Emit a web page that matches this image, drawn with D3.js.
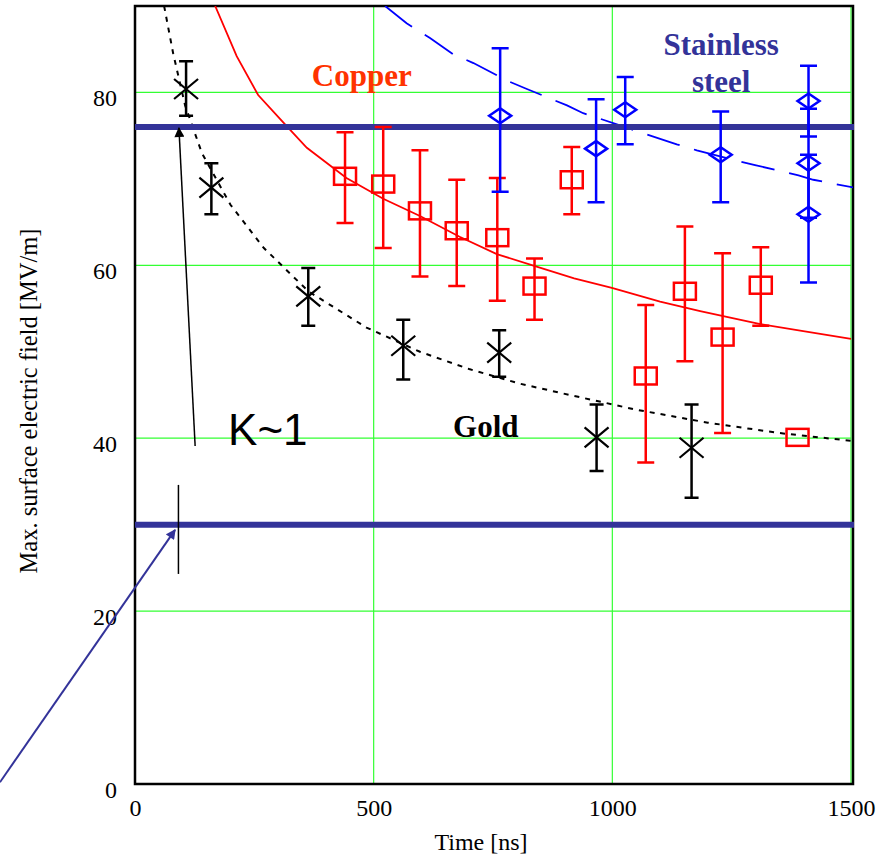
<!DOCTYPE html>
<html>
<head>
<meta charset="utf-8">
<script src="https://cdn.jsdelivr.net/npm/d3@7"></script>
<style>
  body { margin: 0; background: #fff; }
  svg { display: block; }
</style>
</head>
<body>
<script>

const w = 888;
const h = 857;
const serif = "'Liberation Serif', 'Times New Roman', serif";
const sans = "'Liberation Sans', Arial, sans-serif";

// gold (black crosses)
const goldTime = [107, 160, 363, 562, 763, 967, 1166];
const goldField = [80.4, 69.0, 56.4, 50.7, 49.9, 40.1, 38.9];
const goldLow = [77.3, 65.9, 53.0, 46.8, 47.1, 36.2, 33.1];
const goldHigh = [83.6, 71.8, 59.7, 53.7, 52.5, 43.9, 43.9];

// copper (red squares)
const copperTime = [440, 520, 597, 674, 759, 837, 915, 1070, 1152, 1231, 1311, 1388];
const copperField = [70.3, 69.4, 66.3, 64.0, 63.2, 57.6, 69.9, 47.2, 57.0, 51.7, 57.7, 40.1];
const copperLow = [64.9, 62.0, 58.7, 57.6, 55.9, 53.7, 65.9, 37.2, 48.9, 40.6, 53.0, null];
const copperHigh = [75.4, 76.0, 73.3, 69.9, 70.1, 60.8, 73.7, 55.4, 64.5, 61.4, 62.1, null];

// stainless steel (blue diamonds)
const steelTime = [765, 966, 1027, 1227, 1411, 1411, 1411];
const steelField = [77.3, 73.5, 78.0, 72.8, 79.0, 71.8, 65.9];
const steelLow = [68.5, 67.3, 74.0, 67.3, 74.9, 65.5, 58.0];
const steelHigh = [85.1, 79.2, 81.8, 77.8, 83.1, 78.1, 72.8];

// trend curves
const goldCurveTime = [61, 80, 105, 140, 200, 270, 363, 485, 597, 700, 807, 911, 1050, 1200, 1350, 1500];
const goldCurveField = [90, 84.5, 78.5, 73, 67, 62, 57, 52.8, 50, 48, 46.3, 45, 43.3, 41.8, 40.6, 39.7];
const copperCurveTime = [168, 213, 258, 311, 360, 443, 520, 597, 680, 758, 838, 920, 999, 1100, 1184, 1310, 1400, 1500];
const copperCurveField = [90, 84.2, 79.7, 76.5, 73.6, 70.1, 67.7, 65.7, 63.3, 61.3, 59.9, 58.5, 57.4, 55.8, 54.7, 53.2, 52.4, 51.5];
const steelCurveTime = [524, 569, 618, 667, 709, 782, 821, 905, 939, 1016, 1058, 1135, 1177, 1261, 1299, 1390, 1421, 1505];
const steelCurveField = [90, 88, 86.3, 84.4, 83.4, 81.3, 80.4, 78.5, 77.6, 76.2, 75.4, 74.0, 73.3, 72.1, 71.6, 70.4, 69.9, 69.0];

const refLevels = [76, 30];
const xTicks = [0, 500, 1000, 1500];
const yTicks = [0, 20, 40, 60, 80];

const xScale = d3.scaleLinear().domain([0, 1500]).range([135, 851]);
const yScale = d3.scaleLinear().domain([0, 90]).range([784, 6]);

const svg = d3.select('body').append('svg')
              .attr('width', w)
              .attr('height', h);

const defs = svg.append('defs');
defs.append('clipPath').attr('id', 'plot')
    .append('rect')
    .attr('x', xScale(0)).attr('y', yScale(90))
    .attr('width', xScale(1500) - xScale(0) + 2)
    .attr('height', yScale(0) - yScale(90));

[['head-black', '#000'], ['head-blue', '#333399']].forEach(([id, c]) => {
  defs.append('marker')
      .attr('id', id)
      .attr('viewBox', '0 0 10 10')
      .attr('refX', 9).attr('refY', 5)
      .attr('markerWidth', 12).attr('markerHeight', 10)
      .attr('markerUnits', 'userSpaceOnUse')
      .attr('orient', 'auto')
      .append('path')
      .attr('d', 'M0,0L10,5L0,10Z')
      .attr('fill', c);
});

// grid
svg.append('g').selectAll('line').data(yTicks.slice(1)).enter().append('line')
   .attr('x1', xScale(0)).attr('x2', xScale(1500))
   .attr('y1', d => yScale(d)).attr('y2', d => yScale(d))
   .attr('stroke', '#33ff33').attr('stroke-width', 1.2);
svg.append('g').selectAll('line').data(xTicks.slice(1)).enter().append('line')
   .attr('x1', d => xScale(d)).attr('x2', d => xScale(d))
   .attr('y1', yScale(90)).attr('y2', yScale(0))
   .attr('stroke', '#33ff33').attr('stroke-width', 1.2);

// frame
svg.append('path')
   .attr('d', `M${xScale(0)},${yScale(90)}H${xScale(1500) + 2}V${yScale(0)}H${xScale(0)}Z`)
   .attr('fill', 'none').attr('stroke', '#000').attr('stroke-width', 2.5);

// axes
const xAxis = d3.axisBottom(xScale).tickValues(xTicks).tickFormat(d3.format('d')).tickSize(0).tickPadding(15);
const yAxis = d3.axisLeft(yScale).tickValues(yTicks).tickFormat(d3.format('d')).tickSize(0).tickPadding(18);

svg.append('g')
   .attr('transform', 'translate(0,' + yScale(0) + ')')
   .call(xAxis)
   .call(g => g.select('.domain').remove())
   .selectAll('text')
   .style('font-family', serif)
   .style('font-size', '24px').attr('fill', '#000');

svg.append('g')
   .attr('transform', 'translate(' + xScale(0) + ',0)')
   .call(yAxis)
   .call(g => g.select('.domain').remove())
   .selectAll('text')
   .style('font-family', serif)
   .style('font-size', '24px').attr('fill', '#000')
   .attr('dy', '0.55em');

svg.append('text')
   .text('Time [ns]')
   .attr('x', 481).attr('y', 850)
   .attr('text-anchor', 'middle')
   .style('font-family', serif)
   .style('font-size', '24px');

svg.append('text')
   .text('Max. surface electric field [MV/m]')
   .attr('transform', 'translate(37,401) rotate(-90)')
   .attr('text-anchor', 'middle')
   .style('font-family', serif)
   .style('font-size', '24.5px');

const plot = svg.append('g').attr('clip-path', 'url(#plot)');

const line = d3.line().x(d => xScale(d[0])).y(d => yScale(d[1]));

plot.append('path')
    .datum(d3.zip(goldCurveTime, goldCurveField))
    .attr('d', line)
    .attr('fill', 'none').attr('stroke', '#000')
    .attr('stroke-width', 2).attr('stroke-dasharray', '5,6');

plot.append('path')
    .datum(d3.zip(copperCurveTime, copperCurveField))
    .attr('d', line)
    .attr('fill', 'none').attr('stroke', '#ff0000').attr('stroke-width', 1.8);

plot.append('path')
    .datum(d3.zip(steelCurveTime, steelCurveField))
    .attr('d', line)
    .attr('fill', 'none').attr('stroke', '#0000ff')
    .attr('stroke-width', 1.8).attr('stroke-dasharray', '34,15');

// reference levels
svg.append('g').selectAll('line').data(refLevels).enter().append('line')
   .attr('x1', xScale(0)).attr('x2', xScale(1500) + 3)
   .attr('y1', d => yScale(d)).attr('y2', d => yScale(d))
   .attr('stroke', '#333399').attr('stroke-width', 6);

function errorBars(t, lo, hi, color, cap) {
  const data = d3.range(t.length).filter(i => lo[i] != null).map(i => [t[i], lo[i], hi[i]]);
  const g = svg.append('g').attr('stroke', color).attr('stroke-width', 2.5).attr('fill', 'none');
  g.selectAll('.bar').data(data).enter().append('path')
   .attr('d', d => {
     const x = xScale(d[0]);
     return `M${x},${yScale(d[1])}V${yScale(d[2])}` +
            `M${x - cap},${yScale(d[1])}H${x + cap}` +
            `M${x - cap},${yScale(d[2])}H${x + cap}`;
   });
}

errorBars(goldTime, goldLow, goldHigh, '#000', 7);
errorBars(copperTime, copperLow, copperHigh, '#ff0000', 8.5);
errorBars(steelTime, steelLow, steelHigh, '#0000ff', 8.5);

svg.append('g').selectAll('path').data(d3.zip(goldTime, goldField)).enter().append('path')
   .attr('d', d => {
     const x = xScale(d[0]), y = yScale(d[1]);
     return `M${x - 12},${y - 10}L${x + 12},${y + 10}M${x - 12},${y + 10}L${x + 12},${y - 10}`;
   })
   .attr('stroke', '#000').attr('stroke-width', 2.2);

svg.append('g').selectAll('rect').data(d3.zip(copperTime, copperField)).enter().append('rect')
   .attr('x', d => xScale(d[0]) - 11).attr('y', d => yScale(d[1]) - 8.5)
   .attr('width', 22).attr('height', 17)
   .attr('fill', 'none').attr('stroke', '#ff0000').attr('stroke-width', 2.5);

svg.append('g').selectAll('path').data(d3.zip(steelTime, steelField)).enter().append('path')
   .attr('d', d => {
     const x = xScale(d[0]), y = yScale(d[1]);
     return `M${x - 11},${y}L${x},${y - 7.5}L${x + 11},${y}L${x},${y + 7.5}Z`;
   })
   .attr('fill', 'none').attr('stroke', '#0000ff').attr('stroke-width', 2.5);

// labels
function label(txt, t, v, color) {
  svg.append('text').text(txt)
     .attr('x', xScale(t)).attr('y', yScale(v))
     .attr('text-anchor', 'middle')
     .attr('fill', color)
     .style('font-family', serif)
     .style('font-weight', 'bold')
     .style('font-size', '31px');
}

label('Copper', 475, 80.7, '#ff3300');
label('Stainless', 1228, 84.3, '#333399');
label('steel', 1228, 80.1, '#333399');
label('Gold', 735, 40.1, '#000');

svg.append('text').text('K~1')
   .attr('x', xScale(195)).attr('y', yScale(39.2))
   .attr('fill', '#000')
   .style('font-family', sans)
   .style('font-size', '44px');

// annotations
svg.append('line')
   .attr('x1', xScale(126)).attr('y1', yScale(39.1))
   .attr('x2', xScale(92)).attr('y2', yScale(75.9))
   .attr('stroke', '#000').attr('stroke-width', 1.5)
   .attr('marker-end', 'url(#head-black)');

svg.append('line')
   .attr('x1', xScale(91)).attr('y1', yScale(24.3))
   .attr('x2', xScale(91)).attr('y2', yScale(34.6))
   .attr('stroke', '#000').attr('stroke-width', 1.5);

svg.append('line')
   .attr('x1', xScale(-283)).attr('y1', yScale(0.2))
   .attr('x2', xScale(84)).attr('y2', yScale(29.4))
   .attr('stroke', '#333399').attr('stroke-width', 2)
   .attr('marker-end', 'url(#head-blue)');

</script>
</body>
</html>
